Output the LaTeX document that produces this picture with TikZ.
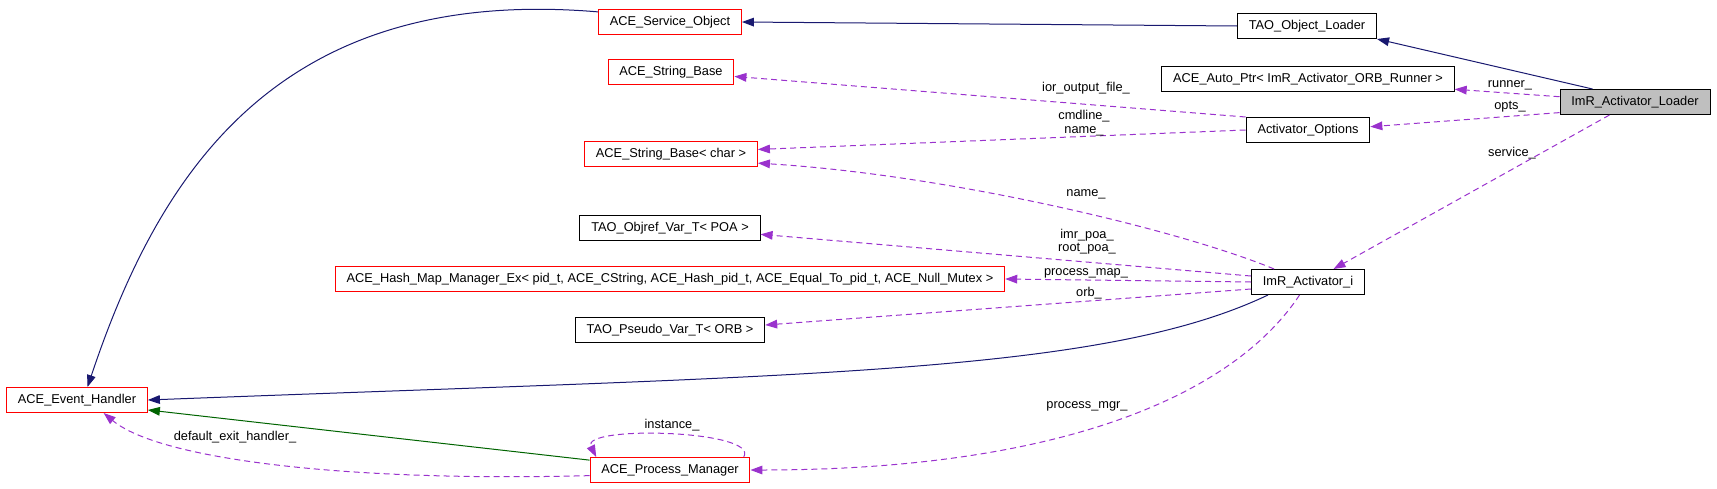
\documentclass[tikz,border=0pt]{standalone}
\usepackage{fontspec}
\setmainfont{Liberation Sans}
\usetikzlibrary{arrows.meta}
\definecolor{inheritBlue}{RGB}{25,25,112}
\definecolor{protGreen}{RGB}{0,100,0}
\definecolor{usePurple}{RGB}{154,50,205}
\definecolor{mainGray}{RGB}{191,191,191}

\begin{document}
\begin{tikzpicture}
[x=0.75pt,y=-0.75pt,
  classNode/.style={shape=rectangle,draw=black,line width=0.75pt,inner xsep=8.5pt,inner ysep=0pt,minimum height=18.75pt,font=\fontsize{9.6}{11}\selectfont},%
  refNode/.style={classNode,draw=red},%
  mainNode/.style={classNode,fill=mainGray},%
  publicArrow/.style={->,>={Triangle[length=9pt,width=6.5pt]},line width=0.75pt,color=inheritBlue},%
  protectedArrow/.style={publicArrow,color=protGreen},%
  usageArrow/.style={publicArrow,color=usePurple,dash pattern=on 4.5pt off 3pt},%
  edgeLabel/.style={font=\fontsize{9.6}{10}\selectfont,inner sep=0pt,align=center}]
\useasboundingbox (0,0) rectangle (1717,489);
%% nodes or classes
\foreach \nodename/\x/\y/\nodetext in {taoLoader/1307/26/{TAO\_Object\_Loader},
  autoPtr/1308/79/{ACE\_Auto\_Ptr< ImR\_Activator\_ORB\_Runner >},
  actOpts/1308/130/{Activator\_Options}, imrI/1308/282/{ImR\_Activator\_i},
  objrefPoa/670/228/{TAO\_Objref\_Var\_T< POA >}, pseudoOrb/670/330/{TAO\_Pseudo\_Var\_T< ORB >}}
{
  \node (\nodename) at (\x,\y) [classNode] {\nodetext};
}
\foreach \nodename/\x/\y/\nodetext in {svcObj/670/22/{ACE\_Service\_Object},
  strBase/671/72/{ACE\_String\_Base}, sbChar/671/154/{ACE\_String\_Base< char >},
  hashMap/670/279/{ACE\_Hash\_Map\_Manager\_Ex< pid\_t, ACE\_CString, ACE\_Hash\_pid\_t, ACE\_Equal\_To\_pid\_t, ACE\_Null\_Mutex >},
  evHandler/77/400/{ACE\_Event\_Handler}, procMgr/670/470/{ACE\_Process\_Manager}}
{
  \node (\nodename) at (\x,\y) [refNode] {\nodetext};
}
\node (loader) at (1635,102) [mainNode] {ImR\_Activator\_Loader};
%% inheritance edges
\path
\foreach \startnode/\endnode in {taoLoader.west/svcObj.east, loader.163/taoLoader.south east}
{
  (\startnode) edge[publicArrow] (\endnode)
}
(procMgr.173) edge[protectedArrow] (evHandler.-8);
\draw[publicArrow] (svcObj.172) .. controls (280,-15) and (160,170) .. (evHandler.51);
\draw[publicArrow] (imrI.198) .. controls (1100,375) and (800,375) .. (evHandler.east);
%% usage edges
\path
\foreach \startnode/\endnode in {actOpts.north west/strBase.-4, actOpts.west/sbChar.3,
  imrI.174/objrefPoa.-4, imrI.west/hashMap.east, imrI.187/pseudoOrb.3,
  loader.176/autoPtr.-4, loader.188/actOpts.3, loader.207/imrI.27}
{
  (\startnode) edge[usageArrow] (\endnode)
};
\draw[usageArrow] (imrI.159) .. controls (1180,230) and (950,175) .. (sbChar.-6);
\draw[usageArrow] (imrI.237) .. controls (1230,400) and (1050,470) .. (procMgr.east);
\draw[usageArrow] (procMgr.184) .. controls (350,482) and (160,460) .. (evHandler.-26);
\draw[usageArrow] (procMgr.10) .. controls (760,430) and (580,425) .. (procMgr.170);
%% edge labels
\foreach \lblname/\lx/\ly/\lbltext in {lblIor/1086/88/{ior\_output\_file\_},
  lblCmd/1084/123/{cmdline\_\\name\_}, lblName/1086/194/{name\_},
  lblPoa/1087/242/{imr\_poa\_\\root\_poa\_}, lblMap/1086/273/{process\_map\_},
  lblOrb/1089/293/{orb\_}, lblRunner/1510/85/{runner\_}, lblOpts/1510/107/{opts\_},
  lblService/1512/153/{service\_}, lblMgr/1087/406/{process\_mgr\_},
  lblInst/672/425/{instance\_}, lblExit/235/437/{default\_exit\_handler\_}}
{
  \node (\lblname) at (\lx,\ly) [edgeLabel] {\lbltext};
}
\end{tikzpicture}
\end{document}
